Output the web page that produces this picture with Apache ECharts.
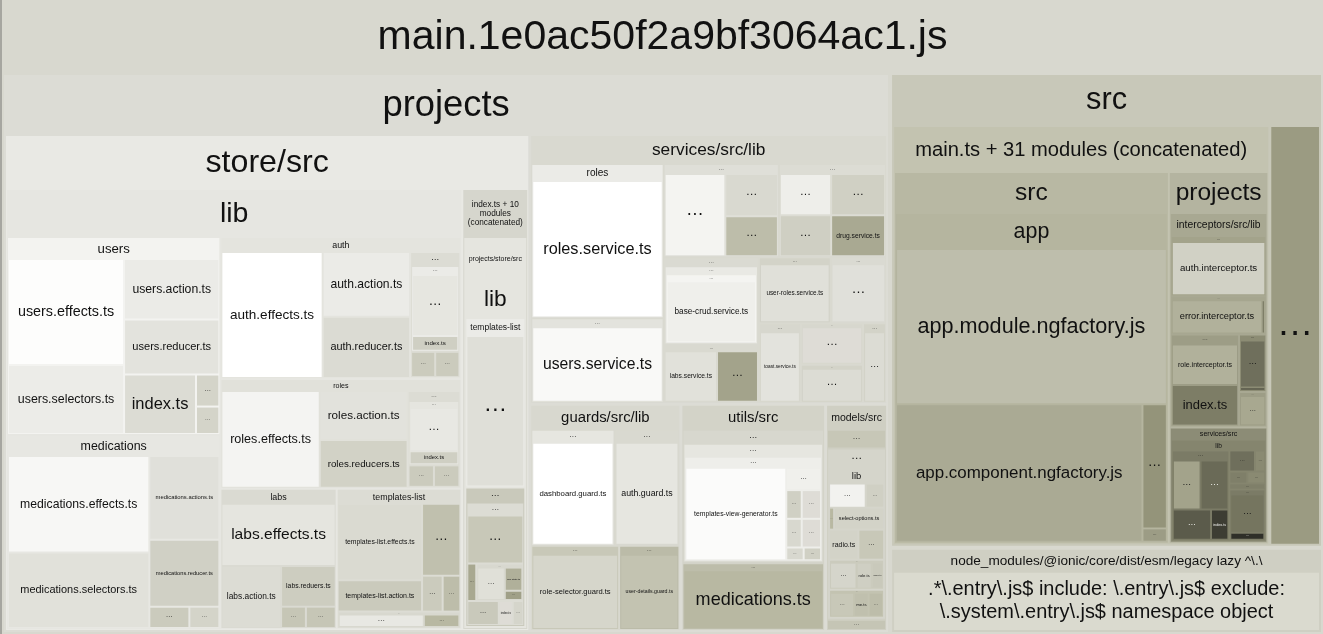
<!doctype html>
<html>
<head>
<meta charset="utf-8">
<title>main.1e0ac50f2a9bf3064ac1.js</title>
<script src="https://cdn.jsdelivr.net/npm/echarts@6/dist/echarts.min.js"></script>
<style>
	html, body { margin: 0; padding: 0; width: 100%; height: 100%; background: #a6a6a0; overflow: hidden; }
	#chart { width: 1323px; height: 634px; }
</style>
</head>
<body>
<div id="chart"></div>
<script>
var FONT = '"Liberation Sans", Arial, Helvetica, sans-serif';
var DOTS = '…';

// ---------- data (sizes) ----------
var bundleName = 'main.1e0ac50f2a9bf3064ac1.js';
var bundleParts = ['projects', 'src', 'node_modules/@ionic/core/dist/esm/legacy lazy ^\\.\\'];
var bundleSizes = [4800, 1980, 360];
var lazyFiles = ['.*\\.entry\\.js$ include: \\.entry\\.js$ exclude: \\.system\\.entry\\.js$ namespace object'];
var lazySizes = [201];

var projectsParts = ['store/src', 'services/src/lib', 'guards/src/lib', 'utils/src', 'models/src'];
var projectsSizes = [2502, 925, 329, 315, 135];

var storeParts = ['lib', 'index.ts + 10 modules (concatenated)'];
var storeSizes = [1922, 278];
var storeLibParts = ['users', 'medications', 'auth', 'roles', 'labs', 'templates-list'];
var storeLibSizes = [399, 391, 323, 250, 154, 165];

var usersFiles = ['users.effects.ts', 'users.selectors.ts', 'users.action.ts', 'users.reducer.ts', 'index.ts', DOTS, DOTS];
var usersSizes = [115, 75, 54, 49, 40, 7, 6];
var medicationsFiles = ['medications.effects.ts', 'medications.selectors.ts', 'medications.actions.ts', 'medications.reducer.ts', DOTS, DOTS];
var medicationsSizes = [128, 100, 55, 44, 8, 6];
var authFiles = ['auth.effects.ts', 'auth.action.ts', 'auth.reducer.ts'];
var authSizes = [117, 52, 49];
var authRestSizes = [58, 41];
var authRestInnerFiles = [DOTS, 'index.ts'];
var authRestInnerSizes = [29, 7];
var authRestFiles = [DOTS, DOTS];
var authRestFileSizes = [6, 6];
var rolesFiles = ['roles.effects.ts', 'roles.action.ts', 'roles.reducers.ts'];
var rolesSizes = [84, 38, 37];
var rolesRestSizes = [45, 30];
var rolesRestInnerFiles = [DOTS, 'index.ts'];
var rolesRestInnerSizes = [20, 6];
var rolesRestFiles = [DOTS, DOTS];
var rolesRestFileSizes = [5, 5];
var labsFiles = ['labs.effects.ts', 'labs.action.ts', 'labs.reduers.ts', DOTS, DOTS];
var labsSizes = [67, 35, 21, 5, 6];
var tplMainFiles = ['templates-list.effects.ts', 'templates-list.action.ts'];
var tplMainSizes = [61, 25];
var tplSideFiles = [DOTS, DOTS, DOTS];
var tplSideSizes = [26, 7, 6];
var tplRestSize = 19;
var tplRestFiles = [DOTS, DOTS];
var tplRestSizes = [12, 5];

var concatParts = ['projects/store/src', 'lib'];
var concatSizes = [238, 210];
var concatLibParts = ['templates-list', DOTS, DOTS];
var concatLibSizes = [101, 83, 76];
var concatTplFiles = [DOTS];
var concatTplSizes = [87];
var concatRestFiles = [DOTS, DOTS, DOTS, 'index.ts', DOTS];
var concatRestSizes = [32, 4, 9, 4, 3];
var concatStateSize = 21;
var concatStateFiles = [DOTS, 'app.state.ts', DOTS];
var concatStateSizes = [11, 5, 2];

var servicesParts = ['roles', DOTS, DOTS, DOTS, DOTS, DOTS, DOTS, DOTS, DOTS, DOTS, DOTS, DOTS];
var servicesSizes = [190, 104, 100, 93, 78, 51, 44, 34, 31, 24, 22, 17];
var servicesFiles = [['roles.service.ts'], ['users.service.ts'], [DOTS, DOTS, DOTS], [DOTS, DOTS, DOTS, 'drug.service.ts'], null,
	['labs.service.ts', DOTS], ['user-roles.service.ts'], [DOTS], ['toast.service.ts'], [DOTS], [DOTS], [DOTS]];
var servicesFileSizes = [[169], [88], [45, 20, 19], [19, 19, 20, 20], null, [23, 18], [37], [29], [23], [18], [16], [12]];
var baseCrudFolderSizes = [66, 57];
var baseCrudFiles = ['base-crud.service.ts'];
var baseCrudSizes = [49];

var guardsFiles = ['dashboard.guard.ts', 'auth.guard.ts', 'role-selector.guard.ts', 'user-details.guard.ts'];
var guardsFolderSizes = [91, 71, 70, 48];
var guardsFileSizes = [78, 61, 54, 35];

var utilsParts = [DOTS, DOTS];
var utilsSizes = [176, 88];
var utilsNestSizes = [157, 138];
var utilsFiles = ['templates-view-generator.ts', DOTS, DOTS, DOTS, DOTS, DOTS, DOTS, DOTS];
var utilsFileSizes = [84, 7, 4, 5, 4, 5, 2, 2];
var utilsMedFiles = ['medications.ts'];
var utilsMedSizes = [76];

var modelsParts = [DOTS, DOTS, DOTS];
var modelsSizes = [11, 100, 6];
var modelsLibSize = 92;
var modelsLibFiles = [DOTS, DOTS, DOTS, 'select-options.ts', 'radio.ts', DOTS];
var modelsLibSizes = [8, 4, 1, 10, 8, 7];
var modelsSubSizes = [15, 14];
var modelsSubAFiles = [DOTS, 'role.ts', 'index.ts'];
var modelsSubASizes = [7, 4, 3];
var modelsSubBFiles = [DOTS, 'me.ts', DOTS];
var modelsSubBSizes = [5, 3, 3];

var srcParts = ['main.ts + 31 modules (concatenated)', DOTS];
var srcSizes = [1540, 207];
var mainParts = ['src', 'projects'];
var mainSizes = [967, 350];
var appSize = 866;
var appFiles = ['app.module.ngfactory.js', 'app.component.ngfactory.js', DOTS, DOTS];
var appSizes = [388, 313, 28, 3];
var rightParts = ['interceptors/src/lib', 'services/src'];
var rightSizes = [201, 108];
var interceptorSizes = [55, 35, 60, 15, 9];
var interceptorFiles = [['auth.interceptor.ts'], ['error.interceptor.ts', DOTS], ['role.interceptor.ts', 'index.ts'], [DOTS, DOTS], [DOTS]];
var interceptorFileSizes = [[48], [28, 1], [28, 28], [13, 1], [8]];
var rightLibSize = 90;
var rightLibASize = 48;
var rightLibAFiles = [DOTS, DOTS, DOTS, 'index.ts'];
var rightLibASizes = [13, 13, 11, 5];
var rightLibFiles = [DOTS, DOTS, DOTS, DOTS, DOTS];
var rightLibSizes = [5, 2, 2, 2, 2];
var rightLibBSize = 17;
var rightLibBFiles = [DOTS, DOTS];
var rightLibBSizes = [11, 2];

// ---------- colours (style only) ----------
var usersColors = ['#fdfdfc', '#ecece8', '#ebebe7', '#e3e3dd', '#dcdcd4', '#d4d4c9', '#d4d4c9'];
var medicationsColors = ['#f7f7f5', '#e1e1da', '#e0e0da', '#d0d0c5', '#cbcbbd', '#d4d4c9'];
var authColors = ['#ffffff', '#ebebe7', '#dbdbd3'];
var rolesColors = ['#f4f4f2', '#e2e2dc', '#d2d2c6'];
var labsColors = ['#e5e5df', '#dcdcd4', '#cdcdc0', '#c6c6b6', '#c6c6b6'];
var servicesGroupColors = ['#ebebe7', '#e3e3dd', '#dfdfd8', '#dcdcd4', '#dadad2', '#d9d9d0', '#d3d3c8', '#dadad2', '#d7d7ce', '#d7d7ce', '#d3d3c8', '#d3d3c8'];
var servicesFileColors = [['#ffffff'], ['#f9f9f7'], ['#f4f4f1', '#d9d9d0', '#bdbdaa'], ['#eeeeea', '#cfcfc3', '#d0d0c4', '#a9a992'], null,
	['#e1e1da', '#a3a38b'], ['#e0e0d9'], ['#e0e0da'], ['#e3e3dd'], ['#dedcd6'], ['#dcdcd4'], ['#dcdcd4']];
var guardsGroupColors = ['#e6e6e0', '#d9d9d0', '#c8c8b8', '#bbbba8'];
var guardsFileColors = ['#ffffff', '#e6e6e0', '#d6d6cb', '#c3c3b1'];
var interceptorGroupColors = ['#a3a38b', '#a6a68f', '#9d9d86', '#8c8c74', '#9d9d86'];
var interceptorFileColors = [['#d1d1c5'], ['#b1b19b', '#7a7a63'], ['#b1b19b', '#7d7d66'], ['#6f6f5c', '#5c5c4c'], ['#a8a890']];

// ---------- tree ----------
var seq = 0;
var nodesByKey = {};
function reg(n) { n.key = 'n' + (seq++); nodesByKey[n.key] = n; return n; }
function fileNodes(names, sizes, colors) {
	return names.map(function (nm, i) { return reg({ name: nm, value: sizes[i], color: colors[i] }); });
}
function folderNode(name, size, color, kids) { return reg({ name: name, value: size, color: color, children: kids }); }
function wrapNode(kids) { return reg({ name: '', wrapper: true, children: kids }); }

var rolesLeaves = fileNodes(rolesFiles, rolesSizes, rolesColors);
var storeLib = folderNode(storeParts[0], storeSizes[0], '#e6e6e1', [
	folderNode(storeLibParts[0], storeLibSizes[0], '#f3f3f0', fileNodes(usersFiles, usersSizes, usersColors)),
	folderNode(storeLibParts[1], storeLibSizes[1], '#e7e7e2', fileNodes(medicationsFiles, medicationsSizes, medicationsColors)),
	folderNode(storeLibParts[2], storeLibSizes[2], '#e4e4de', fileNodes(authFiles, authSizes, authColors).concat([
		folderNode(DOTS, authRestSizes[0], '#dcdcd4', [
			folderNode(DOTS, authRestSizes[1], '#ebebe7', fileNodes(authRestInnerFiles, authRestInnerSizes, ['#e6e6e0', '#cfcfc3']))
		].concat(fileNodes(authRestFiles, authRestFileSizes, ['#cbcbbd', '#cbcbbd'])))
	])),
	folderNode(storeLibParts[3], storeLibSizes[3], '#e1e1da', [
		rolesLeaves[0],
		wrapNode([rolesLeaves[1], rolesLeaves[2]]),
		folderNode(DOTS, rolesRestSizes[0], '#dcdcd4', [
			folderNode(DOTS, rolesRestSizes[1], '#e5e5df', fileNodes(rolesRestInnerFiles, rolesRestInnerSizes, ['#e8e8e3', '#cfcfc3']))
		].concat(fileNodes(rolesRestFiles, rolesRestFileSizes, ['#cbcbbd', '#cbcbbd'])))
	]),
	wrapNode([
		folderNode(storeLibParts[4], storeLibSizes[4], '#dadad2', fileNodes(labsFiles, labsSizes, labsColors)),
		folderNode(storeLibParts[5], storeLibSizes[5], '#dcdcd4', [
			wrapNode([
				wrapNode(fileNodes(tplMainFiles, tplMainSizes, ['#dadad1', '#cacabc']))
			].concat(fileNodes(tplSideFiles, tplSideSizes, ['#c0c0ae', '#cbcbbd', '#bdbdaa']))),
			folderNode(DOTS, tplRestSize, '#d8d8cf', fileNodes(tplRestFiles, tplRestSizes, ['#e8e8e3', '#b8b8a2']))
		])
	])
]);

var concatNode = folderNode(storeParts[1], storeSizes[1], '#d6d6cd', [
	folderNode(concatParts[0], concatSizes[0], '#e5e5df', [
		folderNode(concatParts[1], concatSizes[1], '#e5e5df', [
			folderNode(concatLibParts[0], concatLibSizes[0], '#ebebe7', fileNodes(concatTplFiles, concatTplSizes, ['#dfdfd8'])),
			folderNode(concatLibParts[1], concatLibSizes[1], '#c9c9bb', [
				folderNode(concatLibParts[2], concatLibSizes[2], '#dcdcd4',
					fileNodes(concatRestFiles.slice(0, 2), concatRestSizes.slice(0, 2), ['#c8c8b8', '#a8a890']).concat([
						folderNode(DOTS, concatStateSize, '#d8d8cf', fileNodes(concatStateFiles, concatStateSizes, ['#e0e0d8', '#b0b09a', '#a0a088']))
					]).concat(fileNodes(concatRestFiles.slice(2), concatRestSizes.slice(2), ['#c9c9bb', '#dedcd6', '#d5d5cb'])))
			])
		])
	])
]);

var servicesKids = servicesParts.map(function (nm, i) {
	if (!servicesFiles[i]) {
		return folderNode(nm, servicesSizes[i], servicesGroupColors[i], [
			folderNode(DOTS, baseCrudFolderSizes[0], '#e9e9e4', [
				folderNode(DOTS, baseCrudFolderSizes[1], '#f4f4f1', fileNodes(baseCrudFiles, baseCrudSizes, ['#efefeb']))
			])
		]);
	}
	return folderNode(nm, servicesSizes[i], servicesGroupColors[i], fileNodes(servicesFiles[i], servicesFileSizes[i], servicesFileColors[i]));
});

var guardsKids = guardsFiles.map(function (f, i) {
	return folderNode(DOTS, guardsFolderSizes[i], guardsGroupColors[i], fileNodes([f], [guardsFileSizes[i]], [guardsFileColors[i]]));
});

var utilsNode = folderNode(projectsParts[3], projectsSizes[3], '#d3d3c8', [
	folderNode(utilsParts[0], utilsSizes[0], '#d7d7ce', [
		folderNode(DOTS, utilsNestSizes[0], '#e6e6e0', [
			folderNode(DOTS, utilsNestSizes[1], '#eeeeea', fileNodes(utilsFiles, utilsFileSizes,
				['#fbfbfa', '#f0f0ec', '#d0d0c4', '#dedcd6', '#d8d8cf', '#dedcd6', '#d8d8cf', '#d0d0c4']))
		])
	]),
	folderNode(utilsParts[1], utilsSizes[1], '#bdbdaa', fileNodes(utilsMedFiles, utilsMedSizes, ['#b8b8a2']))
]);

var modelsNode = folderNode(projectsParts[4], projectsSizes[4], '#cfcfc3', [
	fileNodes([modelsParts[0]], [modelsSizes[0]], ['#c7c7b7'])[0],
	folderNode(modelsParts[1], modelsSizes[1], '#d5d5cb', [
		folderNode('lib', modelsLibSize, '#d5d5cb', fileNodes(modelsLibFiles, modelsLibSizes,
			['#f2f2ef', '#d0d0c4', '#b8b8a2', '#d3d3c8', '#d3d3c8', '#c8c8b8']).concat([
			folderNode(DOTS, modelsSubSizes[0], '#cbcbbd', fileNodes(modelsSubAFiles, modelsSubASizes, ['#d5d5cb', '#cfcfc3', '#c9c9bb'])),
			folderNode(DOTS, modelsSubSizes[1], '#c3c3b1', fileNodes(modelsSubBFiles, modelsSubBSizes, ['#c8c8b8', '#c0c0ae', '#bdbdaa']))
		]))
	]),
	fileNodes([modelsParts[2]], [modelsSizes[2]], ['#c5c5b5'])[0]
]);

var projectsNode = folderNode(bundleParts[0], bundleSizes[0], '#dcdcd5', [
	folderNode(projectsParts[0], projectsSizes[0], '#e9e9e4', [storeLib, concatNode]),
	folderNode(projectsParts[1], projectsSizes[1], '#d9d9d0', servicesKids),
	wrapNode([
		folderNode(projectsParts[2], projectsSizes[2], '#d8d8cf', guardsKids),
		utilsNode
	]),
	modelsNode
]);

var rightProjects = folderNode(mainParts[1], mainSizes[1], '#b4b4a0', [
	folderNode(rightParts[0], rightSizes[0], '#a8a892', interceptorSizes.map(function (s, i) {
		return folderNode(DOTS, s, interceptorGroupColors[i], fileNodes(interceptorFiles[i], interceptorFileSizes[i], interceptorFileColors[i]));
	})),
	folderNode(rightParts[1], rightSizes[1], '#8c8c76', [
		folderNode('lib', rightLibSize, '#85856e', [
			folderNode(DOTS, rightLibASize, '#7b7b66', fileNodes(rightLibAFiles, rightLibASizes, ['#a3a38b', '#6a6a57', '#5b5b4b', '#3d3d33']))
		].concat(fileNodes(rightLibFiles, rightLibSizes, ['#6f6f5c', '#8a8a72', '#7f7f69', '#8a8a72', '#7f7f69'])).concat([
			folderNode(DOTS, rightLibBSize, '#7b7b66', fileNodes(rightLibBFiles, rightLibBSizes, ['#75755f', '#2f2f28']))
		]))
	])
]);

var srcNode = folderNode(bundleParts[1], bundleSizes[1], '#c8c8b9', [
	folderNode(srcParts[0], srcSizes[0], '#c3c3b0', [
		folderNode(mainParts[0], mainSizes[0], '#b8b8a3', [
			folderNode('app', appSize, '#b5b59f', fileNodes(appFiles, appSizes, ['#bebeac', '#aaaa94', '#94947a', '#9c9c85']))
		]),
		rightProjects
	]),
	fileNodes([srcParts[1]], [srcSizes[1]], ['#9b9b82'])[0]
]);

var lazyNode = folderNode(bundleParts[2], bundleSizes[2], '#cfcfc3', fileNodes(lazyFiles, lazySizes, ['#dadacf']));
var rootNode = folderNode(bundleName, null, '#d8d8cf', [projectsNode, srcNode, lazyNode]);

var headerOverride = {};
headerOverride[rootNode.key] = 75;
headerOverride[lazyNode.key] = 23;

// ---------- label fitting (font size and line breaks from the laid-out boxes) ----------
var mctx = document.createElement('canvas').getContext('2d');
mctx.font = '100px ' + FONT;
function textW(s) { return mctx.measureText(s).width / 100; }

function wrapLines(s, fs, maxW) {
	var words = s.split(' '), lines = [], cur = '';
	for (var i = 0; i < words.length; i++) {
		var t = cur ? cur + ' ' + words[i] : words[i];
		if (!cur || textW(t) * fs <= maxW) cur = t;
		else { lines.push(cur); cur = words[i]; }
	}
	lines.push(cur);
	return lines;
}

function fitLabel(s, w, h, isHeader) {
	var cap = isHeader ? 41 : 0.26 * Math.sqrt(w * h);
	var maxW = (isHeader ? 0.9 : 0.85) * w;
	for (var fs = cap; fs > 1.5; fs *= 0.985) {
		var lines = wrapLines(s, fs, maxW);
		if (lines.length > 3) continue;
		var widest = 0;
		for (var i = 0; i < lines.length; i++) widest = Math.max(widest, textW(lines[i]) * fs);
		if (widest > maxW) continue;
		var n = lines.length;
		var okH = isHeader ? (n === 1 ? fs <= 0.6 * h : n * 1.15 * fs <= 0.75 * h) : n * 1.15 * fs <= 0.9 * h;
		if (!okH) continue;
		return { size: fs, text: lines.join('\n'), lines: n };
	}
	return { size: 1.5, text: s, lines: 1, hide: true };
}

function textColor(hex) {
	var r = parseInt(hex.substr(1, 2), 16), g = parseInt(hex.substr(3, 2), 16), b = parseInt(hex.substr(5, 2), 16);
	return (0.299 * r + 0.587 * g + 0.114 * b) / 255 < 0.42 ? '#f4f4f0' : '#111111';
}

var headerH = {};
var labelFit = {};

function labelStyle(node, fit, H) {
	var dots = node.name === DOTS;
	var s = {
		show: !fit.hide,
		position: 'inside',
		fontFamily: FONT,
		fontSize: fit.size,
		lineHeight: Math.max(1, Math.round(fit.size * 1.15)),
		color: textColor(node.color),
		overflow: 'none',
		padding: 0,
		offset: dots ? [0, -fit.size * 0.28] : [0, 0]
	};
	if (fit.text != null) s.formatter = fit.text;
	if (H != null) s.height = H;
	return s;
}

function toItem(node, depth, parentColor, parentGap) {
	var item = { name: node.name, key: node.key };
	if (node.value != null) item.value = node.value;
	if (node.wrapper) {
		item.itemStyle = { color: parentColor, borderColor: parentColor, borderWidth: 0, gapWidth: parentGap };
		item.upperLabel = { show: false, height: 0 };
		item.label = { show: false };
		item.children = node.children.map(function (c) { return toItem(c, depth, parentColor, parentGap); });
		return item;
	}
	if (node.children) {
		var bw = depth <= 2 ? 2 : 1;
		var gap = depth === 1 ? 4 : (depth === 2 ? 3 : 2);
		var H = headerOverride[node.key] || headerH[node.key] || Math.max(3, Math.round(0.11 * Math.sqrt((node.value || 8000) * 100)));
		var fit = labelFit[node.key] || { size: Math.max(3, H * 0.55), lines: 1 };
		item.itemStyle = { color: node.color, borderColor: node.color, borderWidth: bw, gapWidth: gap };
		item.upperLabel = labelStyle(node, fit, H);
		item.children = node.children.map(function (c) { return toItem(c, depth + 1, node.color, gap); });
	} else {
		item.itemStyle = { color: node.color, borderColor: parentColor, borderWidth: 0 };
		item.label = labelStyle(node, labelFit[node.key] || { size: 9, lines: 1 });
	}
	return item;
}

function makeOption() {
	return {
		animation: false,
		graphic: [{
			type: 'group', left: 10, top: 8, z: 100,
			children: [
				{ type: 'rect', shape: { x: 0, y: 0, width: 25, height: 25, r: 3 }, style: { fill: '#ffffff', stroke: '#a9a9a9', lineWidth: 1 } },
				{ type: 'polyline', shape: { points: [[10.5, 8], [14.5, 12.5], [10.5, 17]] }, style: { stroke: '#444', fill: null, lineWidth: 1 } }
			]
		}],
		series: [{
			type: 'treemap',
			left: 2, top: 0, width: 1321, height: 634,
			roam: false,
			nodeClick: false,
			sort: false,
			squareRatio: 1,
			visibleMin: 1,
			breadcrumb: { show: false },
			itemStyle: { borderWidth: 0, gapWidth: 0, borderColor: '#d8d8cf' },
			upperLabel: { show: false, height: 0 },
			emphasis: { disabled: true },
			data: [toItem(rootNode, 1, '#a6a6a0', 0)]
		}]
	};
}

var chart = echarts.init(document.getElementById('chart'));
function render() { chart.setOption(makeOption(), true); }

function eachLaidOut(fn) {
	var data = chart.getModel().getSeriesByIndex(0).getData();
	data.tree.root.eachNode(function (n) {
		var lay = n.getLayout();
		var raw = data.getRawDataItem(n.dataIndex) || (n.getModel() && n.getModel().option);
		if (!lay || !raw || !raw.key || !nodesByKey[raw.key]) return;
		fn(nodesByKey[raw.key], lay, n);
	});
}

render();
try {
	// header heights follow the group's own height, so settle them level by level
	for (var pass = 0; pass < 14; pass++) {
		var changed = false;
		eachLaidOut(function (node, lay) {
			if (!node.children || node.wrapper) return;
			var H = headerOverride[node.key] || Math.max(3, Math.round(lay.height * 0.11));
			if (headerH[node.key] !== H) { headerH[node.key] = H; changed = true; }
		});
		if (!changed) break;
		render();
	}
	eachLaidOut(function (node, lay) {
		if (node.wrapper) return;
		if (node.children) {
			var bw = lay.borderWidth || 0;
			labelFit[node.key] = fitLabel(node.name, lay.width - 2 * bw, headerOverride[node.key] || headerH[node.key], true);
		} else {
			labelFit[node.key] = fitLabel(node.name, lay.width, lay.height, false);
		}
	});
	render();
} catch (e) {
	console.log(e);
}
</script>
</body>
</html>
